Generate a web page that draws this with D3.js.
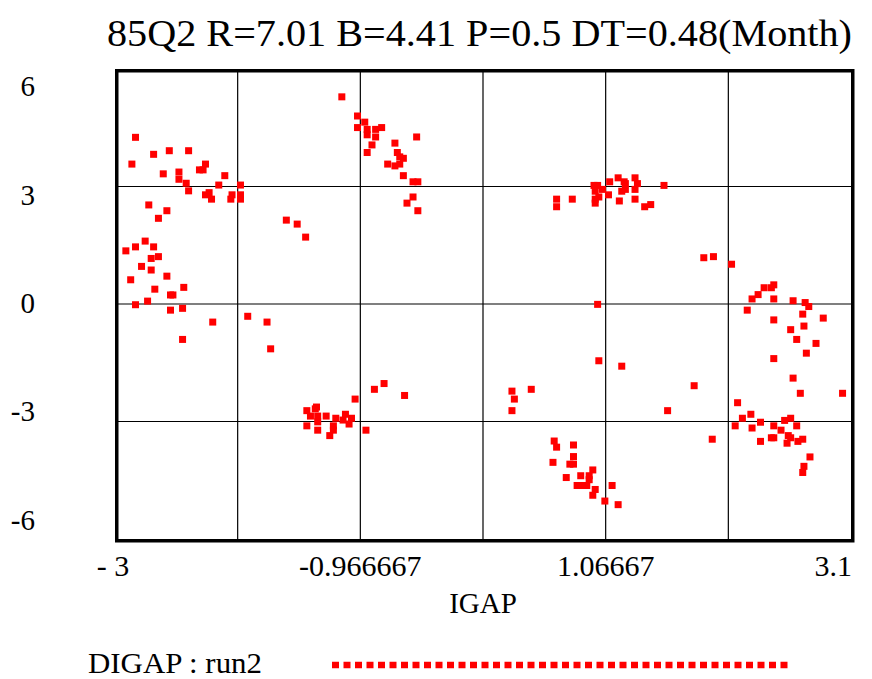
<!DOCTYPE html>
<html>
<head>
<meta charset="utf-8">
<script src="https://cdn.jsdelivr.net/npm/d3@7"></script>
<style>
  body { margin: 0; background: #fff; }
  svg text { font-family: "Liberation Serif", "Times New Roman", serif; fill: #000; }
</style>
</head>
<body>
<div id="chart"></div>
<script>
var titleText = "85Q2 R=7.01 B=4.41 P=0.5 DT=0.48(Month)";
var xLabel = "IGAP";
var seriesName = "DIGAP : run2";

// x tick labels (every other grid line) and y tick labels
var xTickValues = [-3, -0.966667, 1.06667, 3.1];
var xTickLabels = ["- 3", "-0.966667", "1.06667", "3.1"];
var yTickValues = [6, 3, 0, -3, -6];
var xGrid = [-1.983333, -0.966667, 0.05, 1.06667, 2.083333];
var yGrid = [3.25, 0, -3.25];

// IGAP values of run2
var igap = [
  -2.83,-2.68,-2.55,-2.39,-2.86,-2.25,-2.30,-2.27,-2.60,-2.47,-2.47,-2.09,-2.41,-2.14,-1.96,-2.39,-2.25,-2.22,-2.20,-2.03,-2.04,-1.96,-1.96,-2.72,-2.57,-2.64,-1.58,-1.49,-1.42,
  -2.75,-2.83,-2.68,-2.91,-2.70,-2.64,-2.78,-2.70,-2.87,-2.57,-2.67,-2.43,-2.54,-2.52,-2.83,-2.73,-2.54,-2.44,-2.19,-1.90,-1.74,-2.44,-1.71,
  -1.12,-0.99,-0.93,-0.99,-0.91,-0.91,-0.84,-0.79,-0.84,-0.87,-0.50,-0.68,-0.91,-0.66,-0.64,-0.61,-0.74,-0.68,-0.64,-0.61,-0.53,-0.49,-0.53,-0.58,-0.49,
  -1.01,-0.85,-0.77,-0.60,-1.41,-1.33,-1.34,-1.38,-1.41,-1.32,-1.25,-1.32,-1.32,-1.17,-1.19,-1.19,-1.22,-1.09,-1.11,-1.04,-1.06,-0.92,
  0.97,1.00,1.10,1.17,1.22,1.23,1.31,1.33,1.55,1.04,0.98,1.01,1.09,1.20,1.23,1.31,0.66,0.66,0.79,0.98,0.98,1.18,1.31,1.39,1.44,
  1.01,1.20,1.00,0.29,0.45,0.31,0.29,1.58,0.64,0.66,0.80,0.80,0.63,0.77,0.80,0.96,0.74,0.86,0.93,0.93,0.83,0.88,0.91,0.98,0.96,1.12,1.06,1.17,
  1.88,1.96,2.11,2.46,2.44,2.38,2.33,2.28,2.46,2.62,2.72,2.75,2.24,2.70,2.87,2.46,2.71,2.60,2.65,2.81,2.73,2.46,2.62,1.80,
  2.68,3.03,2.16,2.27,2.20,2.14,2.35,2.28,2.46,2.55,2.60,2.65,2.52,2.44,2.46,2.35,2.58,2.60,2.57,2.66,2.70,1.95,2.76,2.71,2.70
];
// DIGAP values of run2 (same order)
var digap = [
  4.61,4.14,4.24,4.24,3.87,3.87,3.71,3.71,3.60,3.65,3.45,3.55,3.34,3.29,3.29,3.13,3.02,3.08,2.90,3.02,2.90,3.02,2.90,2.74,2.58,2.37,2.32,2.21,1.85,
  1.74,1.58,1.58,1.47,1.26,1.31,1.04,0.94,0.67,0.77,0.41,0.46,0.25,0.25,-0.02,0.08,-0.17,-0.12,-0.50,-0.34,-0.50,-0.98,-1.24,
  5.73,5.20,5.03,4.88,4.83,4.68,4.83,4.88,4.62,4.40,4.62,4.45,4.19,4.19,4.07,4.03,3.87,3.82,3.87,3.55,3.38,3.38,2.96,2.79,2.58,
  -2.63,-2.36,-2.20,-2.53,-2.95,-2.85,-2.90,-3.10,-3.37,-3.10,-3.10,-3.26,-3.49,-3.16,-3.37,-3.49,-3.64,-3.05,-3.21,-3.16,-3.32,-3.49,
  3.28,3.28,3.38,3.49,3.38,3.33,3.49,3.33,3.28,3.17,3.12,2.96,3.02,3.12,3.17,3.17,2.90,2.69,2.90,2.90,2.79,2.85,2.90,2.69,2.75,
  -1.57,-1.72,-0.01,-2.41,-2.36,-2.63,-2.95,-2.95,-3.79,-3.96,-3.90,-4.22,-4.38,-4.43,-4.43,-4.59,-4.80,-4.75,-4.75,-4.86,-5.02,-5.02,-5.02,-5.13,-5.29,-5.02,-5.45,-5.55,
  1.28,1.31,1.10,0.53,0.45,0.45,0.26,0.14,0.14,0.09,0.04,-0.07,-0.17,-0.28,-0.39,-0.44,-0.61,-0.71,-0.98,-1.09,-1.36,-1.51,-2.05,-2.26,
  -2.47,-2.47,-2.73,-3.05,-3.16,-3.37,-3.27,-3.43,-3.37,-3.22,-3.16,-3.37,-3.49,-3.70,-3.70,-3.80,-3.64,-3.70,-3.85,-3.80,-3.74,-3.74,-4.23,-4.49,-4.66
];

var width = 872, height = 679;
var plotLeft = 115, plotRight = 851, plotTop = 69, plotBottom = 539;

var svg = d3.select("#chart").append("svg")
  .attr("width", width)
  .attr("height", height);

var x = d3.scaleLinear().domain([-3, 3.1]).range([plotLeft, plotRight]);
var y = d3.scaleLinear().domain([-6.5, 6.5]).range([plotBottom, plotTop]);

// title
svg.append("text")
  .attr("x", 107).attr("y", 46)
  .attr("textLength", 745)
  .attr("lengthAdjust", "spacingAndGlyphs")
  .style("font-size", "37px")
  .text(titleText);

// grid lines
svg.append("g").selectAll("line").data(xGrid).join("line")
  .attr("x1", function(d) { return x(d); })
  .attr("x2", function(d) { return x(d); })
  .attr("y1", plotTop).attr("y2", plotBottom)
  .attr("stroke", "#000").attr("stroke-width", 1.2);
svg.append("g").selectAll("line").data(yGrid).join("line")
  .attr("y1", function(d) { return y(d); })
  .attr("y2", function(d) { return y(d); })
  .attr("x1", plotLeft).attr("x2", plotRight)
  .attr("stroke", "#000").attr("stroke-width", 1.2);

// points
var pts = igap.map(function(v, i) { return {x: v, y: digap[i]}; });
var s = 7;
svg.append("g").selectAll("rect").data(pts).join("rect")
  .attr("x", function(d) { return x(d.x) - s / 2; })
  .attr("y", function(d) { return y(d.y) - s / 2; })
  .attr("width", s).attr("height", s)
  .attr("fill", "#ff0000");

// frame
svg.append("rect")
  .attr("x", plotLeft + 1.75).attr("y", plotTop + 1.75)
  .attr("width", plotRight - plotLeft).attr("height", plotBottom - plotTop)
  .attr("fill", "none")
  .attr("stroke", "#000")
  .attr("stroke-width", 3.5);

// x tick labels
svg.append("g").selectAll("text").data(xTickValues).join("text")
  .attr("x", function(d, i) { return i == xTickValues.length - 1 ? x(d) + 1 : x(d) - (i == 0 ? 2 : 0); })
  .attr("y", 576)
  .attr("text-anchor", function(d, i) { return i == xTickValues.length - 1 ? "end" : "middle"; })
  .style("font-size", "30px")
  .text(function(d, i) { return xTickLabels[i]; });

// y tick labels
svg.append("g").selectAll("text").data(yTickValues).join("text")
  .attr("x", 35)
  .attr("y", function(d) { return y(d) + 9; })
  .attr("text-anchor", "end")
  .style("font-size", "29px")
  .text(function(d) { return d; });

// axis title
svg.append("text")
  .attr("x", 483).attr("y", 613)
  .attr("text-anchor", "middle")
  .style("font-size", "29px")
  .text(xLabel);

// legend
svg.append("text")
  .attr("x", 88).attr("y", 673)
  .attr("textLength", 174)
  .attr("lengthAdjust", "spacingAndGlyphs")
  .style("font-size", "29px")
  .text(seriesName);
svg.append("line")
  .attr("x1", 332).attr("x2", 792)
  .attr("y1", 665).attr("y2", 665)
  .attr("stroke", "#ff0000")
  .attr("stroke-width", 6.5)
  .attr("stroke-dasharray", "7 4.5");
</script>
</body>
</html>
